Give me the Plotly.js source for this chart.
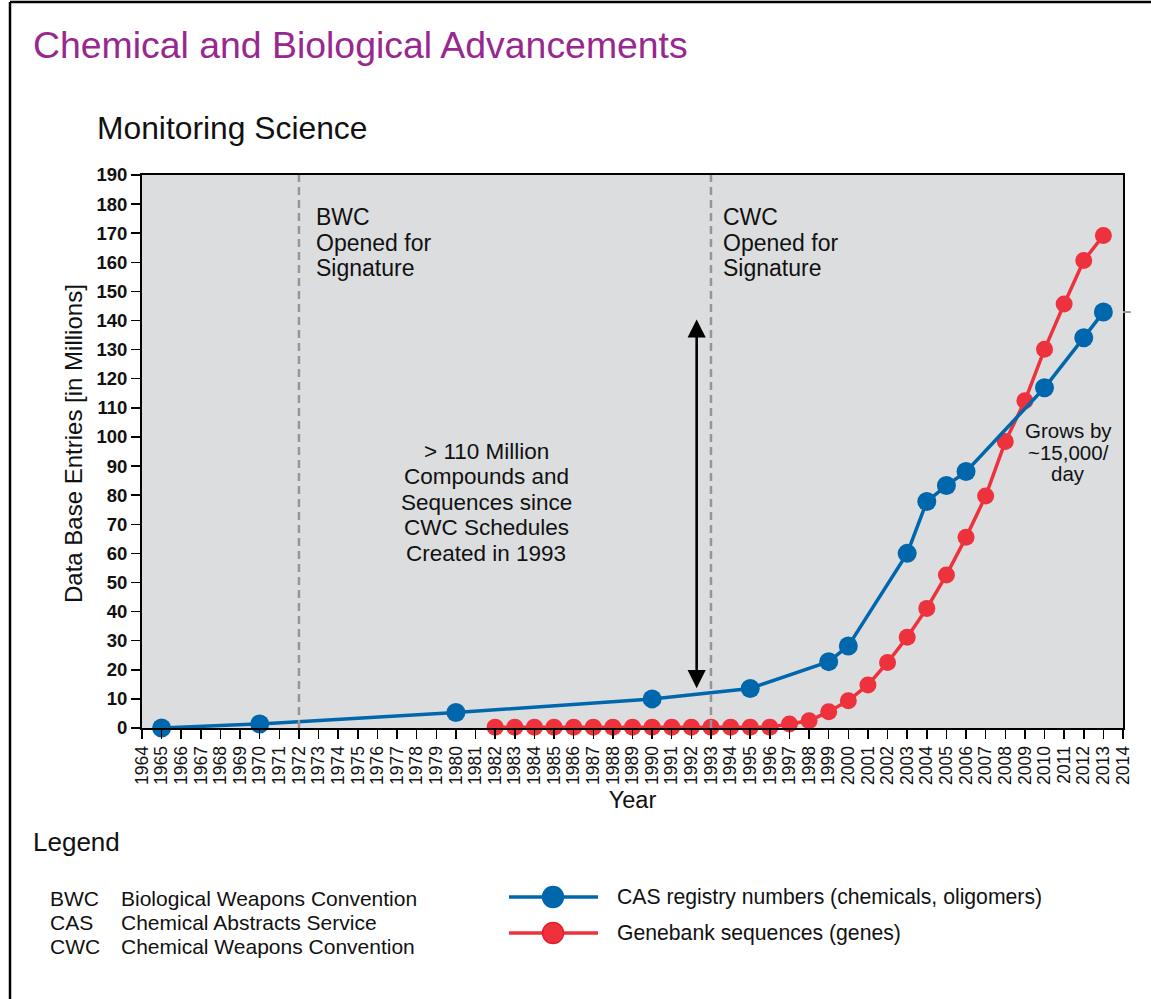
<!DOCTYPE html>
<html>
<head>
<meta charset="utf-8">
<script src="https://cdn.plot.ly/plotly-3.0.1.min.js"></script>
<style>
  html, body { margin: 0; padding: 0; background: #ffffff; }
  #chart { width: 1151px; height: 999px; }
</style>
</head>
<body>
<div id="chart"></div>
<script>
// ---- Data ----
const casYears  = [1965, 1970, 1980, 1990, 1995, 1999, 2000, 2003, 2004, 2005, 2006, 2010, 2012, 2013];
const casValues = [0, 1.4, 5.3, 10, 13.6, 22.8, 28.2, 60, 77.8, 83.3, 88.1, 116.9, 134.1, 142.9];

const geneYears  = [1982, 1983, 1984, 1985, 1986, 1987, 1988, 1989, 1990, 1991, 1992, 1993, 1994, 1995, 1996,
                    1997, 1998, 1999, 2000, 2001, 2002, 2003, 2004, 2005, 2006, 2007, 2008, 2009, 2010, 2011, 2012, 2013];
const geneValues = [0.3, 0.3, 0.3, 0.3, 0.3, 0.3, 0.3, 0.3, 0.3, 0.3, 0.3, 0.3, 0.3, 0.3, 0.3,
                    1.4, 2.5, 5.6, 9.4, 14.8, 22.5, 31.2, 41.1, 52.6, 65.5, 79.7, 98.4, 112.4, 130.1, 145.7, 160.6, 169.2];

const yearTicks = [1964,1965,1966,1967,1968,1969,1970,1971,1972,1973,1974,1975,1976,1977,1978,1979,1980,1981,1982,
                   1983,1984,1985,1986,1987,1988,1989,1990,1991,1992,1993,1994,1995,1996,1997,1998,1999,2000,2001,
                   2002,2003,2004,2005,2006,2007,2008,2009,2010,2011,2012,2013,2014];
const valueTicks = [0,10,20,30,40,50,60,70,80,90,100,110,120,130,140,150,160,170,180,190];

const treatyYears = [1972, 1993];
const treatyLines = [["BWC", "Opened for", "Signature"], ["CWC", "Opened for", "Signature"]];
const noteLines = ["> 110 Million", "Compounds and", "Sequences since", "CWC Schedules", "Created in 1993"];
const growLines = ["Grows by", "~15,000/", "day"];

const arrowSpan = { year: 1992.27, from: 13.7, to: 140.9 };

const seriesNames = ["CAS registry numbers (chemicals, oligomers)", "Genebank sequences (genes)"];
const abbrevCodes = ["BWC", "CAS", "CWC"];
const abbrevNames = ["Biological Weapons Convention", "Chemical Abstracts Service", "Chemical Weapons Convention"];

// ---- Styling ----
const FONT = "Liberation Sans, Arial, sans-serif";
const BLUE = "#0067ac";
const RED = "#ee323d";
const INK = "#111111";

// Geometry helpers (paper coordinates from pixel positions)
const W = 1151, H = 999, L = 142, R = 28, T = 175, B = 271;
const PW = W - L - R, PH = H - T - B;
const px = x => (x - L) / PW;
const py = y => (H - B - y) / PH;

const traces = [
  {
    x: geneYears, y: geneValues, type: "scatter", mode: "lines+markers",
    name: seriesNames[1], showlegend: false, cliponaxis: false,
    line: { color: RED, width: 3.5 },
    marker: { color: RED, size: 17 }
  },
  {
    x: casYears, y: casValues, type: "scatter", mode: "lines+markers",
    name: seriesNames[0], showlegend: false, cliponaxis: false,
    line: { color: BLUE, width: 3.5 },
    marker: { color: BLUE, size: 19 }
  }
];

const annotations = [];
const shapes = [];

function label(text, xPix, yPix, size, xanchor, extra) {
  annotations.push(Object.assign({ xref: "paper", yref: "paper", x: px(xPix), y: py(yPix),
    xanchor: xanchor || "left", yanchor: "middle", text: text, showarrow: false,
    font: { family: FONT, size: size, color: INK } }, extra || {}));
}

// Subtitle
label("Monitoring Science", 95, 128, 31.8);

// Y axis title (placed as rotated text)
label("Data Base Entries [in Millions]", 73, 444, 24, "center", { textangle: -90 });

// Treaty labels and dashed lines
const treatyLeft = [314, 721];
treatyYears.forEach((yr, i) => {
  treatyLines[i].forEach((t, j) => label(t, treatyLeft[i], 217 + j * 25.5, 23));
  shapes.push({ type: "line", xref: "x", yref: "paper", x0: yr, x1: yr, y0: 0, y1: 1,
    line: { color: "#969696", width: 2.5, dash: "8px,5px" }, layer: "above" });
});

// Middle note
noteLines.forEach((t, j) => label(t, 486, 451 + j * 25.5, 22.5, "center"));

// Grows by
growLines.forEach((t, j) => label(t, 1068, 430 + j * 22, 20.5, "center"));

// Double-headed arrow
annotations.push({ xref: "x", yref: "y", axref: "x", ayref: "y",
  x: arrowSpan.year, y: arrowSpan.from, ax: arrowSpan.year, ay: arrowSpan.to,
  text: "", showarrow: true, arrowside: "end+start", arrowhead: 2, arrowsize: 1.4, arrowwidth: 2.6,
  arrowcolor: "#000", standoff: 0, startstandoff: 0 });

// Small grey dash at right edge
shapes.push({ type: "line", xref: "paper", yref: "y", x0: 1.0, x1: 1.008, y0: 142.9, y1: 142.9,
  line: { color: "#999", width: 2 } });

// Legend block
label("Legend", 31, 842, 26);
const abbrevY = [898, 922, 946];
abbrevCodes.forEach((c, i) => {
  label(c, 48, abbrevY[i], 21);
  label(abbrevNames[i], 119, abbrevY[i], 21);
});
const legY = [897, 933];
const legCol = [BLUE, RED];
const legR = [10.5, 10.5];
const legBorder = [BLUE, "#e21f2c"];
seriesNames.forEach((n, i) => {
  shapes.push({ type: "line", xref: "paper", yref: "paper", x0: px(509), x1: px(598), y0: py(legY[i]), y1: py(legY[i]),
    line: { color: legCol[i], width: 3.5 } });
  shapes.push({ type: "circle", xref: "paper", yref: "paper",
    x0: px(553 - legR[i]), x1: px(553 + legR[i]), y0: py(legY[i] + legR[i]), y1: py(legY[i] - legR[i]),
    fillcolor: legCol[i], line: { color: legBorder[i], width: 1.5 } });
  label(n, 615, legY[i], 21.2);
});

// Outer frame: top and left lines
shapes.push({ type: "line", xref: "paper", yref: "paper", x0: px(10), x1: px(1151), y0: py(2), y1: py(2),
  line: { color: "#000", width: 2.5 } });
shapes.push({ type: "line", xref: "paper", yref: "paper", x0: px(10), x1: px(10), y0: py(2), y1: py(999),
  line: { color: "#000", width: 2.5 } });

const layout = {
  width: W, height: H,
  margin: { l: L, r: R, t: T, b: B, pad: 0 },
  paper_bgcolor: "#ffffff",
  plot_bgcolor: "#dcdddf",
  font: { family: FONT, color: INK },
  showlegend: false,
  title: {
    text: "Chemical and Biological Advancements",
    xref: "container", yref: "container", x: 33 / W, xanchor: "left", y: 1 - 45 / H, yanchor: "middle",
    font: { family: FONT, size: 37.4, color: "#98288f" }
  },
  xaxis: {
    range: [1964, 2014], tickmode: "array", tickvals: yearTicks, ticktext: yearTicks.map(String),
    tickangle: -90, tickfont: { family: FONT, size: 17.5, color: INK },
    ticks: "outside", ticklen: 9, tickwidth: 1.5, tickcolor: "#000",
    showline: true, linecolor: "#000", linewidth: 2, mirror: true,
    showgrid: false, zeroline: false, automargin: false,
    title: { text: "Year", font: { family: FONT, size: 23.5, color: INK }, standoff: 8 }
  },
  yaxis: {
    range: [0, 190], tickmode: "array", tickvals: valueTicks, ticktext: valueTicks.map(String),
    tickfont: { family: FONT, size: 18.5, color: INK, weight: "bold" },
    ticks: "outside", ticklen: 9, tickwidth: 1.5, tickcolor: "#000",
    showline: true, linecolor: "#000", linewidth: 2, mirror: true,
    showgrid: false, zeroline: false, automargin: false
  },
  annotations: annotations,
  shapes: shapes
};

Plotly.newPlot("chart", traces, layout, { staticPlot: true, displayModeBar: false });
</script>
</body>
</html>
